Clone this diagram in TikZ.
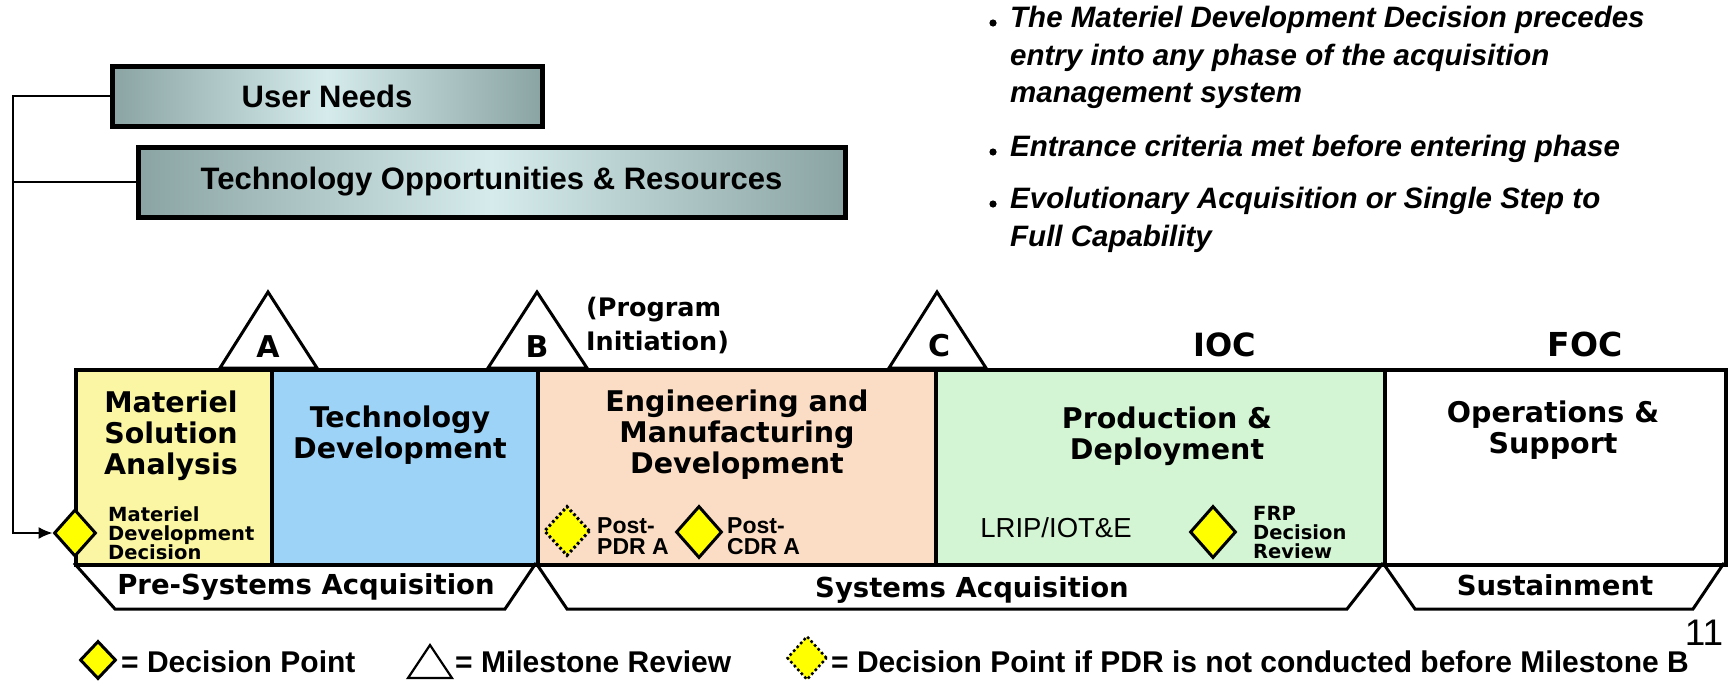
\documentclass[tikz,border=0pt]{standalone}
\usepackage{fontspec}
\setmainfont{Liberation Sans}
\newfontfamily\vfont{DejaVu Sans}
\usetikzlibrary{shapes.geometric,arrows.meta}
\definecolor{msaC}{RGB}{250,246,164}
\definecolor{tdC}{RGB}{157,211,247}
\definecolor{emdC}{RGB}{250,221,196}
\definecolor{pdC}{RGB}{212,245,212}
\definecolor{gEdge}{RGB}{138,163,163}
\definecolor{gMid}{RGB}{214,236,236}
\definecolor{ydia}{RGB}{255,255,0}
\begin{document}
\begin{tikzpicture}[x=1pt,y=-1pt,
  phasebox/.style={draw, line width=4pt, inner sep=0pt, anchor=north west, minimum height=195pt},
  gradbox/.style={draw, line width=5pt, inner sep=0pt, left color=gEdge, right color=gEdge, middle color=gMid,
     font=\fontsize{31}{33}\selectfont\bfseries},
  conn/.style={draw, line width=1.6pt},
  tri/.style={draw, line width=3pt, fill=white, line join=miter},
  trap/.style={draw, line width=3pt, line join=miter},
  dec/.style={diamond, draw, line width=3pt, fill=ydia, inner sep=0pt},
  decdot/.style={diamond, draw, line width=3pt, fill=ydia, inner sep=0pt, dash pattern=on 2.6pt off 2.6pt},
  phtext/.style={align=center, font=\fontsize{28.5}{31}\selectfont\vfont\bfseries},
  smalltext/.style={align=left, anchor=west, font=\fontsize{19.5}{19}\selectfont\vfont\bfseries, inner sep=0pt},
  posttext/.style={align=left, anchor=west, font=\fontsize{23}{21}\selectfont\bfseries, inner sep=0pt},
  mslabel/.style={font=\fontsize{30}{32}\selectfont\vfont\bfseries, inner sep=0pt},
  acqtext/.style={font=\fontsize{27.5}{29}\selectfont\vfont\bfseries, inner sep=0pt},
  legtext/.style={anchor=west, font=\fontsize{30}{32}\selectfont\bfseries, inner sep=0pt},
  bullettext/.style={anchor=west, font=\fontsize{29.5}{32}\selectfont\bfseries\itshape, inner sep=0pt},
]
\useasboundingbox (0,0) rectangle (1730,681);
\fill[white] (0,0) rectangle (1730,681);

% top boxes
\node[gradbox, minimum width=430pt, minimum height=60pt] (un) at (327,96) {User Needs};
\node[gradbox, minimum width=707pt, minimum height=70pt] (tor) at (491.5,182) {Technology Opportunities \& Resources};

% milestone triangles
\draw[tri] (220,368) -- (268,292) -- (317,368) -- cycle;
\draw[tri] (488,368) -- (537,292) -- (587,368) -- cycle;
\draw[tri] (889,368) -- (937,292) -- (986,368) -- cycle;
\node[mslabel] (mA) at (268,347) {A};
\node[mslabel] (mB) at (537,347) {B};
\node[mslabel] (mC) at (939,346) {C};
\node[align=left, anchor=west, inner sep=0pt, font=\fontsize{25.5}{34}\selectfont\vfont\bfseries] (pi) at (586,325) {(Program\\Initiation)};
\node[font=\fontsize{32}{34}\selectfont\vfont\bfseries, inner sep=0pt] (ioc) at (1225,345) {IOC};
\node[font=\fontsize{33}{35}\selectfont\vfont\bfseries, inner sep=0pt] (foc) at (1585,344) {FOC};

% phase boxes
\node[phasebox, fill=msaC, minimum width=196pt] (msa) at (74,368) {};
\node[phasebox, fill=tdC, minimum width=266pt] (td) at (270,368) {};
\node[phasebox, fill=emdC, minimum width=398pt] (emd) at (536,368) {};
\node[phasebox, fill=pdC, minimum width=449pt] (pd) at (934,368) {};
\node[phasebox, fill=white, minimum width=341pt] (os) at (1383,368) {};

\node[phtext] (msat) at (171,436) {Materiel\\Solution\\Analysis};
\node[phtext] (tdt) at (400,435) {Technology\\Development};
\node[phtext] (emdt) at (737,435) {Engineering and\\Manufacturing\\Development};
\node[phtext] (pdt) at (1167,436) {Production \&\\Deployment};
\node[phtext] (ost) at (1553,430) {Operations \&\\Support};

% decision points in phases
\node[dec, minimum width=42pt, minimum height=47pt] (mdd) at (75,533) {};
\node[smalltext] (mddt) at (108,533) {Materiel\\Development\\Decision};
\node[decdot, minimum width=46pt, minimum height=50pt] (pdr) at (567,531) {};
\node[posttext] (pdrt) at (597,536) {Post-\\PDR A};
\node[dec, minimum width=46pt, minimum height=52pt] (cdr) at (699,532) {};
\node[posttext] (cdrt) at (727,536) {Post-\\CDR A};
\node[font=\fontsize{27.5}{29}\selectfont, inner sep=0pt] (lrip) at (1056,528) {LRIP/IOT\&E};
\node[dec, minimum width=46pt, minimum height=52pt] (frp) at (1213,532) {};
\node[smalltext] (frpt) at (1253,533) {FRP\\Decision\\Review};

% connectors
\coordinate (corner) at (13,533);
\draw[conn, -{Latex[length=14pt,width=12pt]}] (un.west) -| (corner) -- (mdd.west);
\draw[conn] (tor.west) -- (tor.west -| corner);

% acquisition trapezoids
\draw[trap] (74,563) -- (115,609) -- (505,609) -- (536,563);
\draw[trap] (536,563) -- (567,609) -- (1347,609) -- (1383,563);
\draw[trap] (1383,563) -- (1415,609) -- (1693,609) -- (1724,563);
\node[acqtext] (pre) at (306,587) {Pre-Systems Acquisition};
\node[acqtext] (sys) at (972,590) {Systems Acquisition};
\node[acqtext] (sus) at (1555,585) {Sustainment};

% legend
\node[dec, minimum width=36pt, minimum height=38pt] (lgd) at (98,660) {};
\node[legtext] (lgdt) at (121,662) {= Decision Point};
\draw[line width=2.2pt, line join=miter] (408,678) -- (430,645) -- (452,678) -- cycle;
\coordinate (lgm) at (430,662);
\node[legtext] (lgmt) at (455,662) {= Milestone Review};
\node[decdot, minimum width=40pt, minimum height=44pt, line width=2.5pt] (lgp) at (807,658) {};
\node[legtext] (lgpt) at (831,662) {= Decision Point if PDR is not conducted before Milestone B};
\node[font=\fontsize{37}{39}\selectfont, inner sep=0pt] (pg) at (1704,633) {11};

% bullets
\foreach \yy/\tt in {20/{The Materiel Development Decision precedes}, 58/{entry into any phase of the acquisition}, 96/{management system}, 149/{Entrance criteria met before entering phase}, 201/{Evolutionary Acquisition or Single Step to}, 239/{Full Capability}}{
  \node[bullettext] at (1010,\yy) {\tt};
}
\foreach \yy in {20,149,201}{
  \fill (993,\yy+3) circle (3.6pt);
}
\end{tikzpicture}
\end{document}
